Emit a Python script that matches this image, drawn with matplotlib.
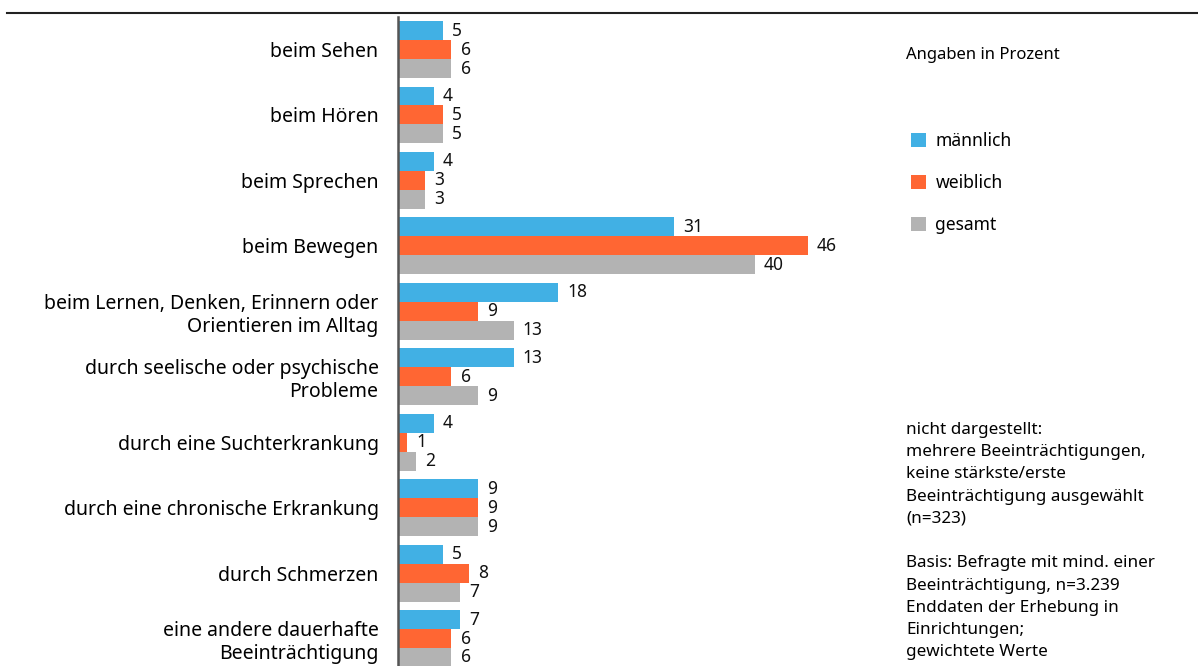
import matplotlib.pyplot as plt
import numpy as np

plt.rcParams['font.family'] = ['Noto Sans', 'DejaVu Sans']

# categories and values (Angaben in Prozent)
categories = [
    'beim Sehen',
    'beim Hören',
    'beim Sprechen',
    'beim Bewegen',
    'beim Lernen, Denken, Erinnern oder\nOrientieren im Alltag',
    'durch seelische oder psychische\nProbleme',
    'durch eine Suchterkrankung',
    'durch eine chronische Erkrankung',
    'durch Schmerzen',
    'eine andere dauerhafte\nBeeinträchtigung',
]
maennlich = [5, 4, 4, 31, 18, 13, 4, 9, 5, 7]
weiblich = [6, 5, 3, 46, 9, 6, 1, 9, 8, 6]
gesamt = [6, 5, 3, 40, 13, 9, 2, 9, 7, 6]
series_names = ['männlich', 'weiblich', 'gesamt']
colors = ['#41B0E4', '#FF6633', '#B3B3B3']

W, H = 1198, 666
fig = plt.figure(figsize=(W / 100, H / 100), dpi=100)
ax = fig.add_axes([398 / W, 0, 492 / W, (H - 17) / H])

y = np.arange(len(categories))
bh = 0.29
handles = []
for j, (vals, col, name) in enumerate(zip([maennlich, weiblich, gesamt], colors, series_names)):
    pos = y + (j - 1) * bh
    b = ax.barh(pos, vals, height=bh, color=col, label=name)
    handles.append(b)
    # value labels right of each bar
    for p, v in zip(pos, vals):
        ax.annotate(str(v), (v, p), xytext=(6.5, 0), textcoords='offset points',
                    va='center', ha='left', fontsize=12.5, color='#111111')

ax.set_xlim(0, 55.2)
ax.set_ylim(9.42, -0.497)
ax.set_yticks(y)
ax.set_yticklabels(categories, fontsize=14, linespacing=1.2, ha='right')
ax.tick_params(axis='y', length=0, pad=14)
ax.set_xticks([])
for s in ['top', 'right', 'bottom']:
    ax.spines[s].set_visible(False)
ax.spines['left'].set_color('#555555')
ax.spines['left'].set_linewidth(1.8)

# top rule
fig.add_artist(plt.Line2D([7 / W, 1], [1 - 13 / H, 1 - 13 / H], color='#222222', lw=1.5))

fig.text(906 / W, 1 - 55 / H, 'Angaben in Prozent', fontsize=12, va='center', ha='left')

fig.legend(handles=handles, loc='upper left', bbox_to_anchor=(895 / W, 1 - 116 / H),
           frameon=False, fontsize=12.6, handlelength=0.86, handleheight=0.86,
           handletextpad=0.55, labelspacing=1.38)

note = ('nicht dargestellt:\nmehrere Beeinträchtigungen,\nkeine stärkste/erste\n'
        'Beeinträchtigung ausgewählt\n(n=323)\n\n'
        'Basis: Befragte mit mind. einer\nBeeinträchtigung, n=3.239\n'
        'Enddaten der Erhebung in\nEinrichtungen;\ngewichtete Werte')
fig.text(906 / W, 1 - 422 / H, note, fontsize=12.3, va='top', ha='left', linespacing=1.52)

fig.savefig('out.png', dpi=100)
